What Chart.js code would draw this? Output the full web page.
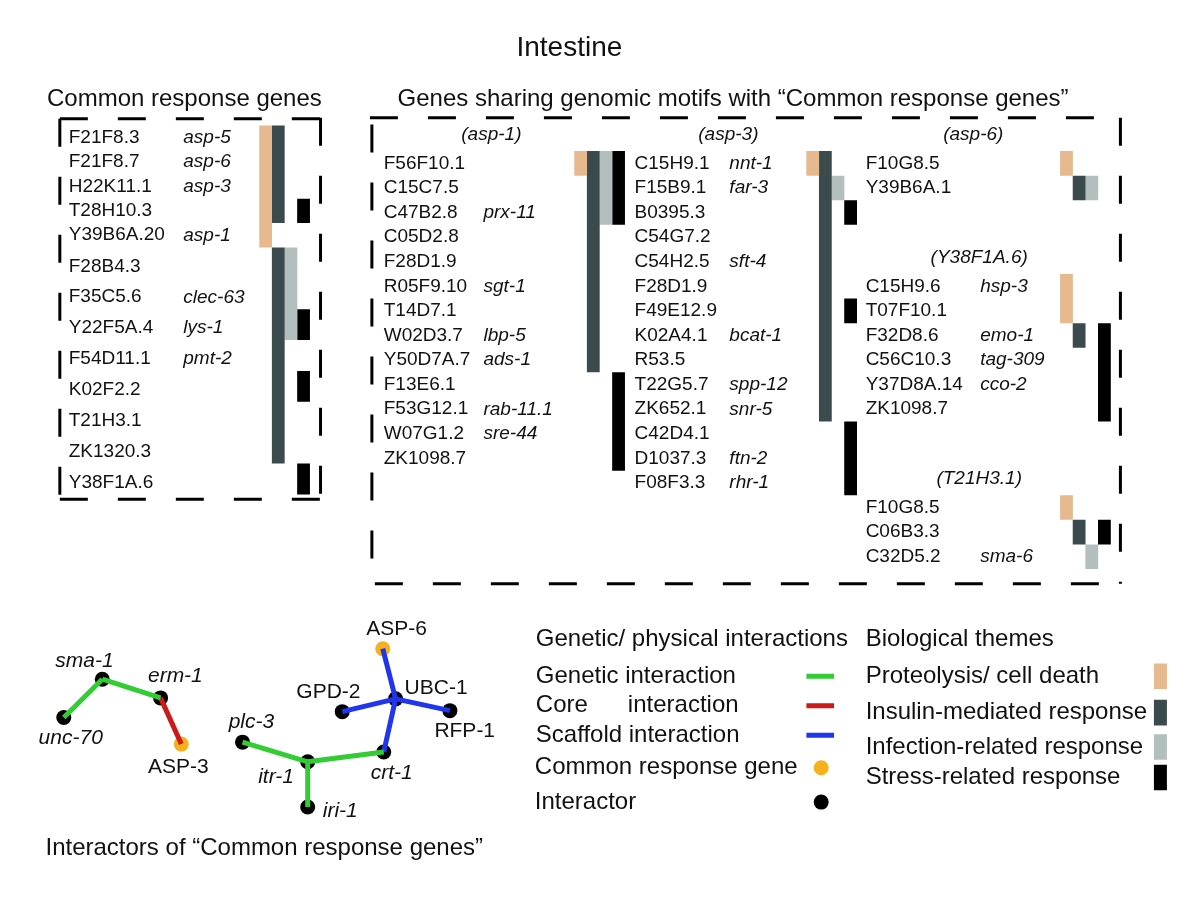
<!DOCTYPE html>
<html>
<head>
<meta charset="utf-8">
<script src="https://cdn.jsdelivr.net/npm/chart.js@4"></script>
<style>
html, body { margin: 0; padding: 0; background: #fff; }
#wrap { width: 1200px; height: 906px; }
</style>
</head>
<body>
<div id="wrap"><canvas id="figure"></canvas></div>
<script>
// biological themes (legend + bar colours)
const themeNames = ['Proteolysis/ cell death', 'Insulin-mediated response', 'Infection-related response', 'Stress-related response'];
const themeColors = ['#e6b98f', '#3b4a4d', '#b3bfbd', '#000000'];

// common response genes, bars are [theme, first row, last row]
const commonGenes = ['F21F8.3', 'F21F8.7', 'H22K11.1', 'T28H10.3', 'Y39B6A.20', 'F28B4.3', 'F35C5.6', 'Y22F5A.4', 'F54D11.1', 'K02F2.2', 'T21H3.1', 'ZK1320.3', 'Y38F1A.6'];
const commonSymbols = ['asp-5', 'asp-6', 'asp-3', '', 'asp-1', '', 'clec-63', 'lys-1', 'pmt-2', '', '', '', ''];
const commonBars = [[0, 0, 4], [1, 0, 3], [1, 5, 11], [2, 5, 7], [3, 3, 3], [3, 7, 7], [3, 9, 9], [3, 12, 12]];

// genes sharing motifs
const asp1Genes = ['F56F10.1', 'C15C7.5', 'C47B2.8', 'C05D2.8', 'F28D1.9', 'R05F9.10', 'T14D7.1', 'W02D3.7', 'Y50D7A.7', 'F13E6.1', 'F53G12.1', 'W07G1.2', 'ZK1098.7'];
const asp1Symbols = ['', '', 'prx-11', '', '', 'sgt-1', '', 'lbp-5', 'ads-1', '', 'rab-11.1', 'sre-44', ''];
const asp1Bars = [[0, 0, 0], [1, 0, 8], [2, 0, 2], [3, 0, 2], [3, 9, 12]];

const asp3Genes = ['C15H9.1', 'F15B9.1', 'B0395.3', 'C54G7.2', 'C54H2.5', 'F28D1.9', 'F49E12.9', 'K02A4.1', 'R53.5', 'T22G5.7', 'ZK652.1', 'C42D4.1', 'D1037.3', 'F08F3.3'];
const asp3Symbols = ['nnt-1', 'far-3', '', '', 'sft-4', '', '', 'bcat-1', '', 'spp-12', 'snr-5', '', 'ftn-2', 'rhr-1'];
const asp3Bars = [[0, 0, 0], [1, 0, 10], [2, 1, 1], [3, 2, 2], [3, 6, 6], [3, 11, 13]];

const asp6Genes = ['F10G8.5', 'Y39B6A.1'];
const asp6Symbols = ['', ''];
const asp6Bars = [[0, 0, 0], [1, 1, 1], [2, 1, 1]];

const y38Genes = ['C15H9.6', 'T07F10.1', 'F32D8.6', 'C56C10.3', 'Y37D8A.14', 'ZK1098.7'];
const y38Symbols = ['hsp-3', '', 'emo-1', 'tag-309', 'cco-2', ''];
const y38Bars = [[0, 0, 1], [1, 2, 2], [3, 2, 5]];

const t21Genes = ['F10G8.5', 'C06B3.3', 'C32D5.2'];
const t21Symbols = ['', '', 'sma-6'];
const t21Bars = [[0, 0, 0], [1, 1, 1], [3, 1, 1], [2, 2, 2]];

// interaction network
const interactionNames = ['Genetic interaction', 'Core      interaction', 'Scaffold interaction'];
const interactionColors = ['#34cc34', '#cc1a1a', '#2035ee'];
const nodeKindNames = ['Common response gene', 'Interactor'];
const nodeKindColors = ['#f6b21c', '#000000'];

const nodeNames = ['sma-1', 'erm-1', 'unc-70', 'ASP-3', 'plc-3', 'itr-1', 'iri-1', 'crt-1', 'UBC-1', 'ASP-6', 'GPD-2', 'RFP-1'];
const nodeX = [96, 155, 57, 176, 238, 304, 304, 381, 393, 380, 339, 448];
const nodeY = [683, 702, 722, 749, 747, 767, 813, 757, 703, 652, 716, 715];
const nodeKind = [1, 1, 1, 0, 1, 1, 1, 1, 1, 0, 1, 1];
const nodeLabelX = [78, 170, 64, 173, 247, 272, 337, 389, 434, 394, 325, 463];
const nodeLabelY = [665, 680, 743, 773, 727, 783, 817, 779, 692, 632, 696, 736];
const edgeFrom = [2, 0, 1, 4, 5, 5, 9, 10, 8, 8];
const edgeTo = [0, 1, 3, 5, 7, 6, 8, 8, 11, 7];
const edgeType = [0, 0, 1, 0, 0, 0, 2, 2, 2, 2];

// ---- layout ----
const FONT = '"Liberation Sans", Arial, Helvetica, sans-serif';
const COL_W = 12.8;
const leftRowTop = r => r < 5 ? 120 + 24.8 * r : 244 + 31.4 * (r - 5);
const midRowTop = r => 146 + 25 * r;

const groups = [
    { header: '(asp-1)', headerX: 490, genes: asp1Genes, syms: asp1Symbols, bars: asp1Bars, textX: 381, symX: 482, barX: 574, row0: 0 },
    { header: '(asp-3)', headerX: 730, genes: asp3Genes, syms: asp3Symbols, bars: asp3Bars, textX: 635, symX: 731, barX: 809, row0: 0 },
    { header: '(asp-6)', headerX: 978, genes: asp6Genes, syms: asp6Symbols, bars: asp6Bars, textX: 869, symX: 985, barX: 1066, row0: 0 },
    { header: '(Y38F1A.6)', headerX: 984, genes: y38Genes, syms: y38Symbols, bars: y38Bars, textX: 869, symX: 985, barX: 1066, row0: 5 },
    { header: '(T21H3.1)', headerX: 984, genes: t21Genes, syms: t21Symbols, bars: t21Bars, textX: 869, symX: 985, barX: 1066, row0: 14 }
];

const datasets = [];
const labels = [];

function segment(x1, y1, x2, y2, color, width, dash) {
    datasets.push({
        data: [{ x: x1, y: y1 }, { x: x2, y: y2 }],
        showLine: true,
        borderColor: color,
        borderWidth: width,
        borderCapStyle: 'butt',
        borderDash: dash || [],
        pointRadius: 0
    });
}
function text(t, x, y, size, italic, align) {
    labels.push({ t: t, x: x, y: y, size: size, italic: !!italic, align: align || 'left' });
}
function themeBar(bar, x0, top, bottom) {
    const cx = x0 + COL_W * (bar[0] + 0.5);
    segment(cx, top, cx, bottom, themeColors[bar[0]], COL_W);
}

// titles
text('Intestine', 569, 41, 28, false, 'center');
text('Common response genes', 40, 93, 24);
text('Genes sharing genomic motifs with \u201cCommon response genes\u201d', 395, 93, 24);

// left panel (lower rows sit a little below their bar centre)
commonGenes.forEach((g, i) => {
    const yc = (leftRowTop(i) + leftRowTop(i + 1)) / 2 + (i < 5 ? 0 : 3.5);
    text(g, 62, yc, 19);
    if (commonSymbols[i]) text(commonSymbols[i], 178, yc, 19, true);
});
commonBars.forEach(b => themeBar(b, 255, leftRowTop(b[1]), leftRowTop(b[2] + 1)));

// motif panel
groups.forEach(g => {
    text(g.header, g.headerX, midRowTop(g.row0 - 1) + 8.5, 19, true, 'center');
    g.genes.forEach((name, i) => {
        const yc = midRowTop(g.row0 + i) + 12.5;
        text(name, g.textX, yc, 19);
        if (g.syms[i]) text(g.syms[i], g.symX, yc, 19, true);
    });
    g.bars.forEach(b => themeBar(b, g.barX, midRowTop(g.row0 + b[1]), midRowTop(g.row0 + b[2] + 1)));
});

// dashed frames
const DASH = [28, 30];
segment(53, 113, 317, 113, '#000', 3, DASH);
segment(53, 500, 317, 500, '#000', 3, DASH);
segment(53, 113, 53, 500, '#000', 3, DASH);
segment(317, 112, 317, 500, '#000', 3, DASH);
segment(367, 112, 1127, 112, '#000', 3, DASH);
segment(372, 586, 1127, 586, '#000', 3, DASH);
segment(369, 119, 369, 586, '#000', 3, DASH);
segment(1127, 112, 1127, 586, '#000', 3, DASH);

// network edges then nodes
edgeFrom.forEach((f, i) => {
    const t = edgeTo[i];
    segment(nodeX[f], nodeY[f], nodeX[t], nodeY[t], interactionColors[edgeType[i]], 5);
});
datasets.push({
    data: nodeNames.map((n, i) => ({ x: nodeX[i], y: nodeY[i] })),
    pointRadius: 7.5,
    pointBackgroundColor: nodeKind.map(k => nodeKindColors[k]),
    pointBorderWidth: 0,
    showLine: false
});
nodeNames.forEach((n, i) => text(n, nodeLabelX[i], nodeLabelY[i], 21, n === n.toLowerCase(), 'center'));
text('Interactors of \u201cCommon response genes\u201d', 260, 855, 24, false, 'center');

// legends
text('Genetic/ physical interactions', 535, 643, 24);
const interY = [680, 710, 740];
interactionNames.forEach((n, i) => {
    text(n, 535, interY[i], 24);
    segment(809, interY[i], 837, interY[i], interactionColors[i], 5);
});
const kindY = [773, 808];
nodeKindNames.forEach((n, i) => text(n, 534, kindY[i], 24));
datasets.push({
    data: kindY.map(y => ({ x: 824, y: y })),
    pointRadius: 7.5,
    pointBackgroundColor: nodeKindColors,
    pointBorderWidth: 0,
    showLine: false
});
text('Biological themes', 869, 643, 24);
const themeY = [680, 717, 752, 783];
themeNames.forEach((n, i) => {
    text(n, 869, themeY[i], 24);
    segment(1167.5, themeY[i] - 13, 1167.5, themeY[i] + 13, themeColors[i], 13);
});

const textPlugin = {
    id: 'figureText',
    afterDatasetsDraw(chart) {
        const ctx = chart.ctx;
        const xs = chart.scales.x, ys = chart.scales.y;
        ctx.save();
        ctx.fillStyle = '#111';
        ctx.textBaseline = 'middle';
        labels.forEach(l => {
            ctx.font = (l.italic ? 'italic ' : '') + l.size + 'px ' + FONT;
            ctx.textAlign = l.align;
            ctx.fillText(l.t, xs.getPixelForValue(l.x), ys.getPixelForValue(l.y));
        });
        ctx.restore();
    }
};

new Chart(document.getElementById('figure'), {
    type: 'scatter',
    data: { datasets: datasets },
    options: {
        responsive: true,
        maintainAspectRatio: false,
        animation: false,
        layout: { padding: 0 },
        plugins: { legend: { display: false }, tooltip: { enabled: false } },
        scales: {
            x: { type: 'linear', min: 0, max: 1200, display: false },
            y: { type: 'linear', min: 0, max: 906, reverse: true, display: false }
        }
    },
    plugins: [textPlugin]
});
</script>
</body>
</html>
